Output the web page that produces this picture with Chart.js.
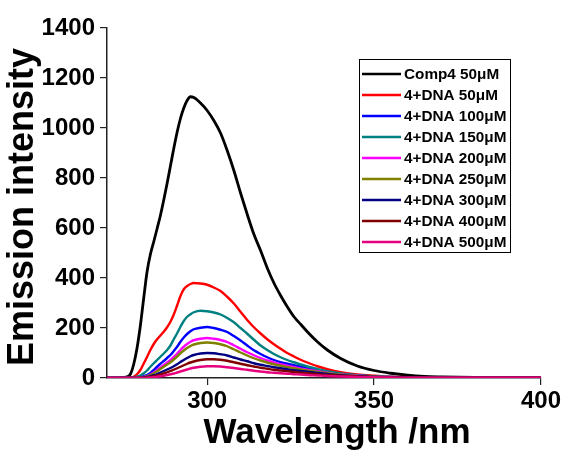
<!DOCTYPE html>
<html>
<head>
<meta charset="utf-8">
<script src="https://cdn.jsdelivr.net/npm/chart.js@4/dist/chart.umd.min.js"></script>
<style>
  html, body { margin: 0; padding: 0; background: #fff; }
  #wrap { width: 579px; height: 454px; position: relative; }
</style>
</head>
<body>
<div id="wrap"><canvas id="c" width="579" height="454"></canvas></div>
<script>
// Emission wavelengths (nm) shared by every spectrum
const wavelength = [270, 274, 276, 277, 278, 279, 280, 281, 282, 283,
  284, 285, 286, 287, 288, 289, 290, 291, 292, 293, 294, 295, 296,
  298, 300, 302, 304, 306, 308, 310, 312, 314, 316, 318, 320, 322, 324, 326, 328, 330,
  333, 336, 340, 345, 350, 355, 360, 365, 370, 380, 390, 400];

// Emission intensity of each sample
const comp4_50 = [0, 1, 5, 15, 55, 120, 210, 320, 425, 495,
  545, 597, 650, 712, 778, 848, 918, 983, 1038, 1080, 1110, 1125, 1122,
  1100, 1070, 1030, 980, 910, 830, 740, 655, 575, 510, 440, 380, 330, 285, 245, 215, 185,
  145, 112, 78, 48, 30, 19, 11, 6, 4, 2, 1, 1];
const dna_50 = [0, 0, 1, 2, 5, 15, 32, 58, 84, 112,
  136, 155, 170, 185, 203, 225, 254, 290, 328, 355, 368, 376, 380,
  378, 373, 362, 348, 325, 298, 265, 232, 203, 178, 155, 135, 117, 100, 86, 73, 62,
  47, 35, 23, 14, 9, 5, 3, 2, 2, 1, 1, 1];
const dna_100 = [0, 0, 0, 0, 1, 2, 4, 8, 12, 20,
  32, 45, 57, 68, 80, 92, 108, 125, 145, 162, 176, 187, 195,
  201, 204, 200, 193, 184, 168, 150, 130, 111, 96, 83, 72, 63, 57, 51, 45, 39,
  31, 24, 16, 10, 6, 4, 2, 2, 1, 1, 1, 1];
const dna_150 = [0, 0, 0, 1, 2, 5, 10, 19, 30, 45,
  59, 72, 85, 98, 112, 130, 155, 179, 205, 228, 245, 255, 263,
  269, 267, 262, 254, 240, 223, 200, 177, 153, 130, 112, 96, 83, 72, 63, 54, 46,
  36, 27, 18, 11, 7, 4, 3, 2, 2, 1, 1, 1];
const dna_200 = [0, 0, 0, 0, 0, 1, 2, 4, 8, 14,
  22, 32, 42, 52, 62, 72, 84, 97, 112, 125, 136, 145, 151,
  157, 160, 157, 152, 144, 131, 117, 103, 91, 80, 70, 62, 55, 49, 43, 38, 33,
  27, 21, 14, 9, 5, 3, 2, 1, 1, 1, 1, 1];
const dna_250 = [0, 0, 0, 0, 0, 1, 2, 3, 7, 12,
  19, 27, 36, 45, 54, 63, 74, 86, 99, 110, 120, 128, 134,
  140, 142, 140, 135, 127, 115, 102, 90, 79, 70, 62, 55, 49, 44, 39, 34, 30,
  24, 19, 13, 8, 5, 3, 2, 1, 1, 1, 1, 1];
const dna_300 = [0, 0, 0, 0, 0, 0, 1, 2, 4, 7,
  11, 16, 22, 28, 34, 40, 47, 55, 64, 72, 80, 87, 92,
  98, 100, 99, 95, 90, 82, 74, 67, 59, 53, 48, 43, 39, 35, 31, 28, 25,
  20, 16, 11, 7, 4, 3, 2, 1, 1, 1, 1, 1];
const dna_400 = [0, 0, 0, 0, 0, 0, 0, 1, 2, 4,
  7, 10, 14, 18, 23, 28, 33, 39, 45, 51, 57, 62, 66,
  72, 75, 75, 73, 69, 63, 57, 51, 46, 41, 37, 33, 30, 27, 24, 21, 19,
  15, 12, 9, 6, 4, 2, 1, 1, 1, 1, 1, 1];
const dna_500 = [0, 0, 0, 0, 0, 0, 0, 0, 1, 2,
  3, 5, 7, 9, 12, 15, 18, 22, 26, 30, 34, 38, 41,
  45, 47, 47, 46, 43, 40, 36, 33, 29, 26, 23, 21, 19, 17, 15, 14, 12,
  10, 8, 6, 4, 3, 2, 1, 1, 1, 1, 1, 1];

const seriesLabels = ['Comp4 50\u03bcM', '4+DNA 50\u03bcM', '4+DNA 100\u03bcM', '4+DNA 150\u03bcM',
  '4+DNA 200\u03bcM', '4+DNA 250\u03bcM', '4+DNA 300\u03bcM', '4+DNA 400\u03bcM', '4+DNA 500\u03bcM'];
const seriesValues = [comp4_50, dna_50, dna_100, dna_150, dna_200, dna_250, dna_300, dna_400, dna_500];
const seriesColors = ['#000000', '#ff0000', '#0000ff', '#008080', '#ff00ff', '#808000', '#000080', '#800000', '#e6007e'];

const xTicks = [300, 350, 400];
const yTicks = [0, 200, 400, 600, 800, 1000, 1200, 1400];

const FONT = '"Liberation Sans", Arial, Helvetica, sans-serif';

const datasets = seriesValues.map((vals, i) => ({
  label: seriesLabels[i],
  data: wavelength.map((w, j) => ({ x: w, y: vals[j] })),
  borderColor: seriesColors[i],
  backgroundColor: seriesColors[i],
  borderWidth: i === 0 ? 2.8 : 2.4,
  pointRadius: 0,
  cubicInterpolationMode: 'monotone',
  order: seriesValues.length - 1 - i
}));

// Boxed legend inside the plot and the bold axis titles
const decorations = {
  id: 'decorations',
  afterDraw(chart) {
    const ctx = chart.ctx;
    ctx.save();
    // legend box
    const bx = 359.5, by = 59.5, bw = 151, bh = 193;
    ctx.strokeStyle = '#000';
    ctx.lineWidth = 1;
    ctx.strokeRect(bx, by, bw, bh);
    ctx.font = 'bold 15.3px ' + FONT;
    ctx.textBaseline = 'middle';
    ctx.textAlign = 'left';
    chart.data.datasets.forEach((ds, i) => {
      const y = 74 + i * 21;
      ctx.strokeStyle = ds.borderColor;
      ctx.lineWidth = 2.4;
      ctx.beginPath();
      ctx.moveTo(362, y);
      ctx.lineTo(401, y);
      ctx.stroke();
      ctx.fillStyle = '#000';
      ctx.fillText(ds.label, 404, y + 1);
    });
    // axis titles
    ctx.fillStyle = '#000';
    ctx.font = 'bold 35px ' + FONT;
    ctx.textAlign = 'center';
    ctx.textBaseline = 'alphabetic';
    ctx.fillText('Wavelength /nm', 337, 443);
    ctx.translate(33, 207);
    ctx.rotate(-Math.PI / 2);
    ctx.font = 'bold 36px ' + FONT;
    ctx.fillText('Emission intensity', 0, 0);
    ctx.restore();
  }
};

new Chart(document.getElementById('c'), {
  type: 'line',
  data: { datasets },
  options: {
    responsive: false,
    animation: false,
    layout: { padding: { top: 28, right: 38, bottom: 0, left: 0 } },
    plugins: { legend: { display: false }, tooltip: { enabled: false } },
    scales: {
      x: {
        type: 'linear',
        min: 270,
        max: 400,
        afterBuildTicks: s => { s.ticks = xTicks.map(v => ({ value: v })); },
        afterFit: s => { s.height = 76; },
        border: { display: true, color: '#222', width: 1.5 },
        grid: { display: true, drawOnChartArea: false, drawTicks: true, tickLength: 7, color: '#222', lineWidth: 1.2 },
        ticks: { color: '#000', font: { family: FONT, size: 24, weight: 'bold' }, padding: 2, maxRotation: 0,
                 callback: v => String(v) }
      },
      y: {
        type: 'linear',
        min: 0,
        max: 1400,
        afterBuildTicks: s => { s.ticks = yTicks.map(v => ({ value: v })); },
        afterFit: s => { s.width = 107; },
        border: { display: true, color: '#222', width: 1.5 },
        grid: { display: true, drawOnChartArea: false, drawTicks: true, tickLength: 7, color: '#222', lineWidth: 1.2 },
        ticks: { color: '#000', font: { family: FONT, size: 24, weight: 'bold' }, padding: 5,
                 callback: v => String(v) }
      }
    }
  },
  plugins: [decorations]
});
</script>
</body>
</html>
